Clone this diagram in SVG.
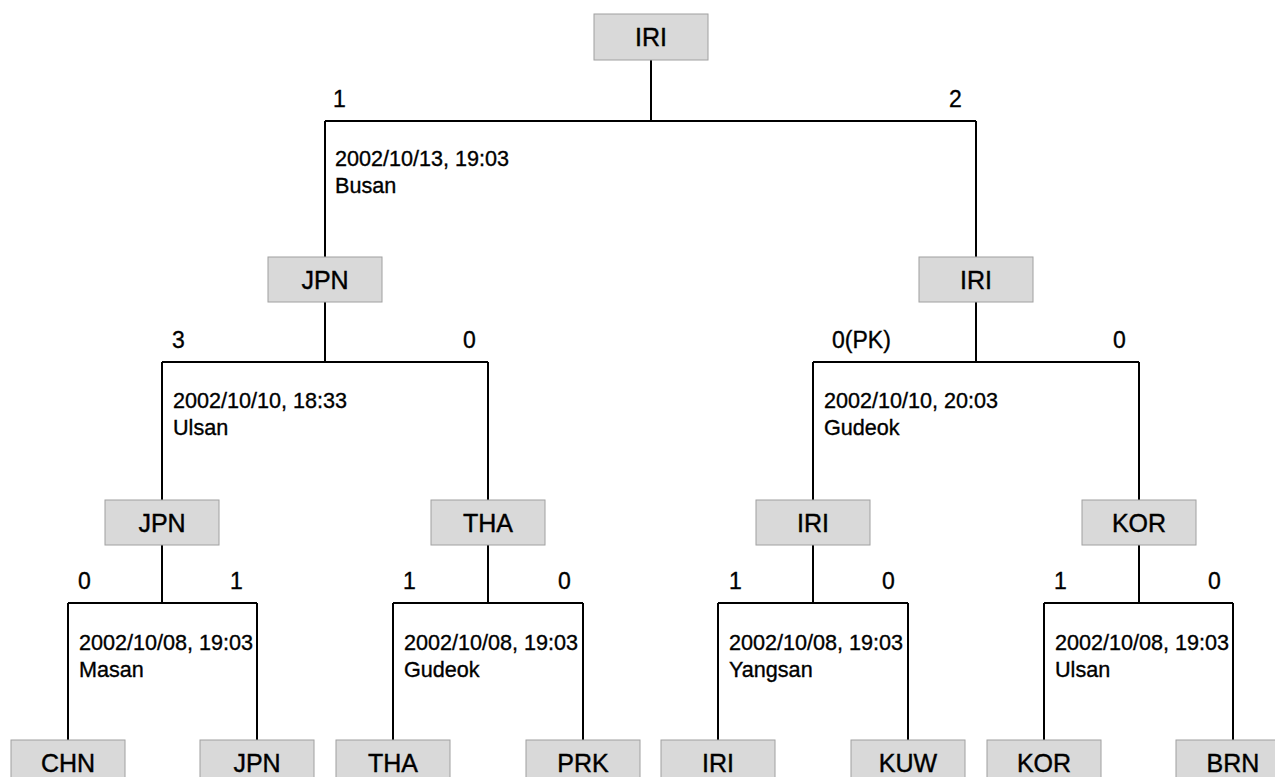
<svg xmlns="http://www.w3.org/2000/svg" width="1275" height="777" viewBox="0 0 1275 777">
<style>
.box{fill:#d9d9d9;stroke:#a0a0a0;stroke-width:1}
.nt{font-family:"Liberation Sans",Arial,sans-serif;font-size:25px;fill:#000;stroke:#000;stroke-width:0.4;text-anchor:middle}
.lbl{font-family:"Liberation Sans",Arial,sans-serif;font-size:23px;fill:#000;stroke:#000;stroke-width:0.35}
.dt{font-family:"Liberation Sans",Arial,sans-serif;font-size:21.6px;fill:#000;stroke:#000;stroke-width:0.35}
.ln{fill:none;stroke:#000;stroke-width:2}
</style>
<rect width="1275" height="777" fill="#fff"/>
<g id="connectors" class="ln">
<path d="M651 60V121M325 121H976M325 121V257M976 121V257"/>
<path d="M325 302V362M162 362H488M162 362V500M488 362V500"/>
<path d="M976 302V362M813 362H1139M813 362V500M1139 362V500"/>
<path d="M162 545V603M68 603H257M68 603V740M257 603V740"/>
<path d="M488 545V603M393 603H583M393 603V740M583 603V740"/>
<path d="M813 545V603M718 603H908M718 603V740M908 603V740"/>
<path d="M1139 545V603M1044 603H1233M1044 603V740M1233 603V740"/>
</g>
<g id="labels">
<text class="lbl" x="333" y="107">1</text>
<text class="lbl" x="949" y="107">2</text>
<text class="dt" x="335" y="166">2002/10/13, 19:03</text>
<text class="dt" x="335" y="193">Busan</text>
<text class="lbl" x="172" y="348">3</text>
<text class="lbl" x="463" y="348">0</text>
<text class="dt" x="173" y="408">2002/10/10, 18:33</text>
<text class="dt" x="173" y="435">Ulsan</text>
<text class="lbl" x="832" y="348">0(PK)</text>
<text class="lbl" x="1113" y="348">0</text>
<text class="dt" x="824" y="408">2002/10/10, 20:03</text>
<text class="dt" x="824" y="435">Gudeok</text>
<text class="lbl" x="78" y="589">0</text>
<text class="lbl" x="230" y="589">1</text>
<text class="dt" x="79" y="650">2002/10/08, 19:03</text>
<text class="dt" x="79" y="677">Masan</text>
<text class="lbl" x="403" y="589">1</text>
<text class="lbl" x="558" y="589">0</text>
<text class="dt" x="404" y="650">2002/10/08, 19:03</text>
<text class="dt" x="404" y="677">Gudeok</text>
<text class="lbl" x="729" y="589">1</text>
<text class="lbl" x="882" y="589">0</text>
<text class="dt" x="729" y="650">2002/10/08, 19:03</text>
<text class="dt" x="729" y="677">Yangsan</text>
<text class="lbl" x="1054" y="589">1</text>
<text class="lbl" x="1208" y="589">0</text>
<text class="dt" x="1055" y="650">2002/10/08, 19:03</text>
<text class="dt" x="1055" y="677">Ulsan</text>
</g>
<g id="n-final"><rect class="box" x="594" y="14" width="114" height="46"/><text class="nt" x="651" y="46">IRI</text></g>
<g id="n-sf1"><rect class="box" x="268" y="257" width="114" height="45"/><text class="nt" x="325" y="289">JPN</text></g>
<g id="n-sf2"><rect class="box" x="919" y="257" width="114" height="45"/><text class="nt" x="976" y="289">IRI</text></g>
<g id="n-qf1"><rect class="box" x="105" y="500" width="114" height="45"/><text class="nt" x="162" y="532">JPN</text></g>
<g id="n-qf2"><rect class="box" x="431" y="500" width="114" height="45"/><text class="nt" x="488" y="532">THA</text></g>
<g id="n-qf3"><rect class="box" x="756" y="500" width="114" height="45"/><text class="nt" x="813" y="532">IRI</text></g>
<g id="n-qf4"><rect class="box" x="1082" y="500" width="114" height="45"/><text class="nt" x="1139" y="532">KOR</text></g>
<g id="n-chn"><rect class="box" x="11" y="740" width="114" height="46"/><text class="nt" x="68" y="772">CHN</text></g>
<g id="n-jpn"><rect class="box" x="200" y="740" width="114" height="46"/><text class="nt" x="257" y="772">JPN</text></g>
<g id="n-tha"><rect class="box" x="336" y="740" width="114" height="46"/><text class="nt" x="393" y="772">THA</text></g>
<g id="n-prk"><rect class="box" x="526" y="740" width="114" height="46"/><text class="nt" x="583" y="772">PRK</text></g>
<g id="n-iri"><rect class="box" x="661" y="740" width="114" height="46"/><text class="nt" x="718" y="772">IRI</text></g>
<g id="n-kuw"><rect class="box" x="851" y="740" width="114" height="46"/><text class="nt" x="908" y="772">KUW</text></g>
<g id="n-kor"><rect class="box" x="987" y="740" width="114" height="46"/><text class="nt" x="1044" y="772">KOR</text></g>
<g id="n-brn"><rect class="box" x="1176" y="740" width="114" height="46"/><text class="nt" x="1233" y="772">BRN</text></g>
</svg>
